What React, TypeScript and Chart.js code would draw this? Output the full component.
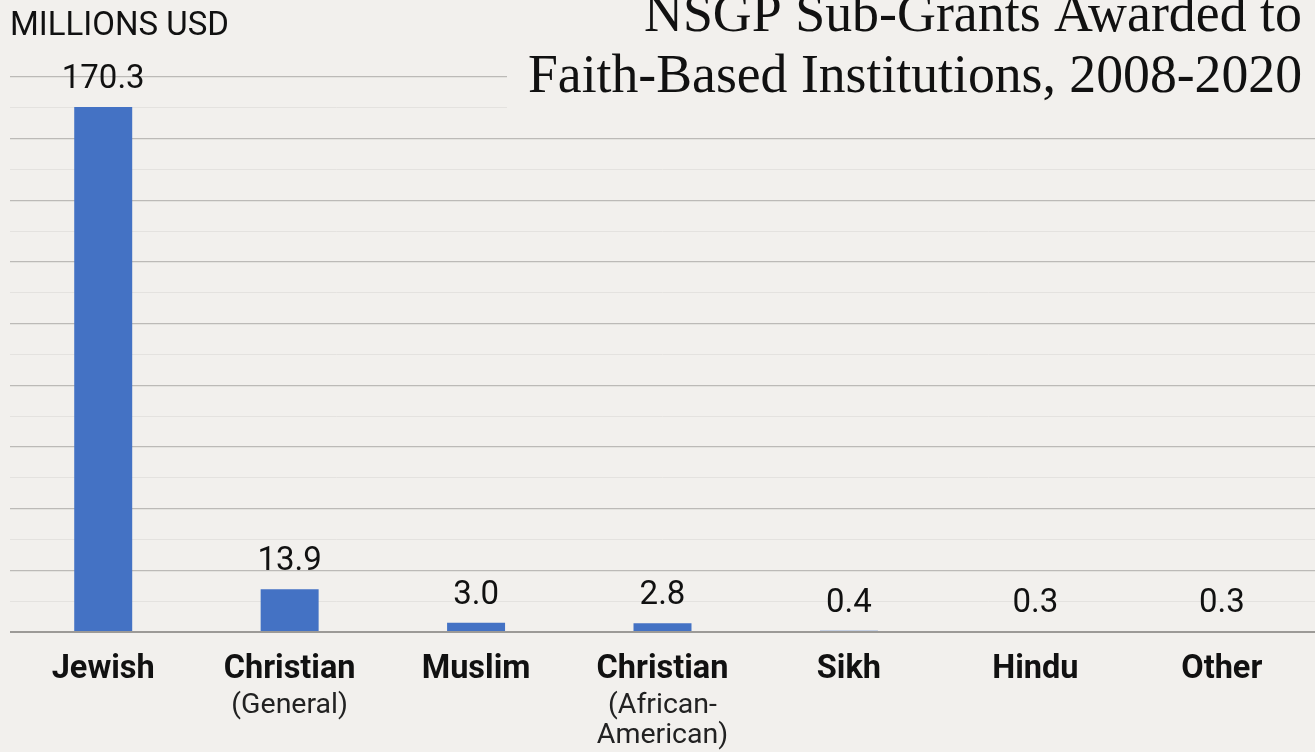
import React, { useEffect, useRef } from "react";
import { Chart, registerables } from "chart.js";

Chart.register(...registerables);

const categories = ["Jewish", "Christian", "Muslim", "Christian", "Sikh", "Hindu", "Other"];
const subLabels: string[][] = [[], ["(General)"], [], ["(African-", "American)"], [], [], []];
const values = [170.3, 13.9, 3.0, 2.8, 0.4, 0.3, 0.3];
const titleLines = ["NSGP Sub-Grants Awarded to", "Faith-Based Institutions, 2008-2020"];
const unitLabel = "MILLIONS USD";
const yMax = 180;
const yStep = 10;

const BG = "#f2f0ed";

const decorPlugin = {
  id: "decor",
  beforeDraw(chart: any) {
    const { ctx, width, height } = chart;
    ctx.save();
    ctx.fillStyle = BG;
    ctx.fillRect(0, 0, width, height);
    ctx.restore();
  },
  afterDatasetsDraw(chart: any) {
    const { ctx } = chart;
    const xs = chart.scales.x;
    const meta = chart.getDatasetMeta(0);
    ctx.save();
    // value labels
    ctx.fillStyle = "#111";
    ctx.textAlign = "center";
    ctx.textBaseline = "alphabetic";
    ctx.font = "33px Roboto";
    meta.data.forEach((bar: any, i: number) => {
      ctx.fillText(values[i].toFixed(1), bar.x, bar.y - 19);
    });
    // category labels
    const base = chart.chartArea.bottom;
    categories.forEach((c, i) => {
      const x = xs.getPixelForValue(i);
      ctx.font = "bold 32.5px Roboto";
      ctx.fillStyle = "#111";
      ctx.fillText(c, x, base + 46);
      ctx.font = "28.5px Roboto";
      ctx.fillStyle = "#222";
      subLabels[i].forEach((s, j) => {
        ctx.fillText(s, x, base + 81 + j * 30);
      });
    });
    // unit label
    ctx.textAlign = "left";
    ctx.font = "33px Roboto";
    ctx.fillStyle = "#111";
    ctx.fillText(unitLabel, 10, 35);
    // title with background
    ctx.fillStyle = BG;
    ctx.fillRect(507, 0, chart.width - 507, 110);
    ctx.fillStyle = "#111";
    ctx.textAlign = "right";
    const right = 1302;
    const targetW = [658, 774];
    const baselines = [31, 92];
    ctx.font = "55px 'Liberation Serif'";
    titleLines.forEach((t, i) => {
      const w = ctx.measureText(t).width;
      const sx = targetW[i] / w;
      ctx.save();
      ctx.translate(right, baselines[i]);
      ctx.scale(sx, 1);
      ctx.fillText(t, 0, 0);
      ctx.restore();
    });
    ctx.restore();
  },
};

export default function App() {
  const ref = useRef<HTMLCanvasElement | null>(null);
  useEffect(() => {
    if (!ref.current) return;
    const chart = new Chart(ref.current, {
      type: "bar",
      data: {
        labels: categories,
        datasets: [
          {
            data: values,
            backgroundColor: "#4472c4",
            barPercentage: 0.311,
            categoryPercentage: 1,
          },
        ],
      },
      options: {
        animation: false,
        responsive: false,
        maintainAspectRatio: false,
        layout: { padding: { left: 10, top: 77, right: 0, bottom: 120 } },
        plugins: { legend: { display: false }, tooltip: { enabled: false }, title: { display: false } },
        scales: {
          x: { display: false },
          y: {
            min: 0,
            max: yMax,
            ticks: { display: false, stepSize: yStep },
            border: { display: false },
            grid: {
              drawTicks: false,
              color: (c: any) => (c.tick.value === 0 ? "#9c9a97" : c.tick.value % 20 === 0 ? "#bcbab7" : "#e4e2df"),
              lineWidth: (c: any) => (c.tick.value === 0 ? 2 : c.tick.value % 20 === 0 ? 1.3 : 1),
            },
            afterFit: (s: any) => {
              s.width = 0;
            },
          },
        },
      },
      plugins: [decorPlugin],
    });
    return () => chart.destroy();
  }, []);
  return (
    <div style={{ position: "fixed", left: 0, top: 0, width: 1315, height: 752, background: BG }}>
      <canvas ref={ref} width={1315} height={752} style={{ display: "block" }} />
    </div>
  );
}
